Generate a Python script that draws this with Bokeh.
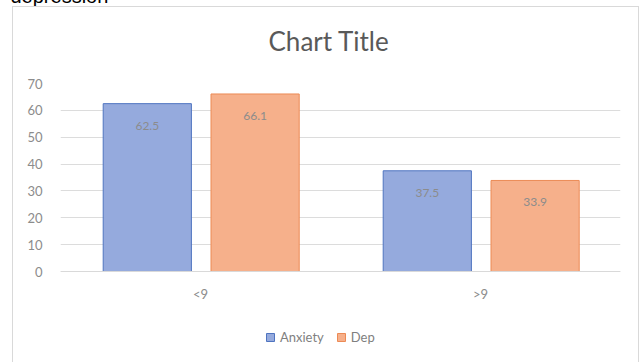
from bokeh.plotting import figure
from bokeh.models import ColumnDataSource, FactorRange, LabelSet, Legend, LegendItem, Title, InlineStyleSheet
from bokeh.transform import dodge
from bokeh.embed import file_html
from bokeh.resources import INLINE
from bokeh.core.properties import value

categories = ["<9", ">9"]
anxiety = [62.5, 37.5]
dep = [66.1, 33.9]
y_ticks = [0, 10, 20, 30, 40, 50, 60, 70]

src = ColumnDataSource(dict(cat=categories, anxiety=anxiety, dep=dep,
                            alab=[str(v) for v in anxiety], dlab=[str(v) for v in dep]))

SHIFT = 6                      # canvas is lifted by this many px so the caption is cut at the top
W, H = 644, 362 + SHIFT
TOP, ZERO = 83 + SHIFT, 271 + SHIFT   # canvas y of the 70 gridline and of the 0 line
y_end = y_ticks[-1]
y_start = -y_end * (H - ZERO) / (ZERO - TOP)

p = figure(width=W, height=H, x_range=FactorRange(*categories), y_range=(y_start, y_end),
           output_backend="svg", toolbar_location=None,
           min_border_left=60, min_border_right=24, min_border_top=0, min_border_bottom=0)
p.outline_line_color = None
p.background_fill_color = "white"
p.border_fill_color = "white"

ra = p.vbar(x=dodge("cat", -0.19, range=p.x_range), top="anxiety", width=0.315, source=src,
            fill_color="#95aadd", line_color="#4f74c0", line_width=1)
rd = p.vbar(x=dodge("cat", 0.195, range=p.x_range), top="dep", width=0.315, source=src,
            fill_color="#f6b08b", line_color="#ec8a55", line_width=1)

lab_style = dict(text_font=value("Lato"), text_font_size="12px", text_color="#8c8c8c",
                 text_align="center", text_baseline="middle", y_offset=-22)
p.add_layout(LabelSet(x=dodge("cat", -0.19, range=p.x_range), y="anxiety", text="alab", source=src, **lab_style))
p.add_layout(LabelSet(x=dodge("cat", 0.195, range=p.x_range), y="dep", text="dlab", source=src, **lab_style))

p.yaxis.ticker = y_ticks
p.yaxis.axis_line_color = None
p.yaxis.major_tick_line_color = None
p.yaxis.minor_tick_line_color = None
p.yaxis.major_label_text_color = "#8c8c8c"
p.yaxis.major_label_text_font = "Lato"
p.yaxis.major_label_text_font_size = "13px"
p.yaxis.major_label_standoff = 12

p.xaxis.fixed_location = 0
p.xaxis.axis_line_color = "#d9d9d9"
p.xaxis.major_tick_line_color = None
p.xaxis.major_label_text_color = "#8c8c8c"
p.xaxis.major_label_text_font = "Lato"
p.xaxis.major_label_text_font_size = "13px"
p.xaxis.major_label_standoff = 8

p.xgrid.grid_line_color = None
p.ygrid.grid_line_color = "#dcdcdc"
p.ygrid.ticker = y_ticks

legend = Legend(items=[LegendItem(label="Anxiety", renderers=[ra]), LegendItem(label="Dep", renderers=[rd])],
                orientation="horizontal", location=(205, 17), border_line_color=None,
                background_fill_alpha=0, label_text_font="Lato", label_text_font_size="13px",
                label_text_color="#7f7f7f", glyph_width=10, glyph_height=10, spacing=12,
                label_standoff=5, padding=2, margin=0)
p.add_layout(legend, "center")

# outermost title: the cut-off caption above the chart
p.title.text = "depression"
p.title.align = "left"
p.title.offset = -50
p.title.text_font = "Liberation Sans"
p.title.text_font_size = "20px"
p.title.text_font_style = "normal"
p.title.text_color = "#000000"
p.title.standoff = -23

p.add_layout(Title(text="Chart Title", align="left", offset=208, text_font="Lato",
                   text_font_size="26px", text_font_style="normal", text_color="#595959",
                   standoff=54), "above")

p.stylesheets = [InlineStyleSheet(css=(
    ":host{position:relative;top:-%dpx;}" % SHIFT +
    ":host::after{content:'';position:absolute;left:12px;top:%dpx;width:625px;height:400px;" % (6 + SHIFT) +
    "border:1.5px solid #d9d9d9;pointer-events:none;}"))]

open("out.html", "w").write(file_html(p, INLINE))
